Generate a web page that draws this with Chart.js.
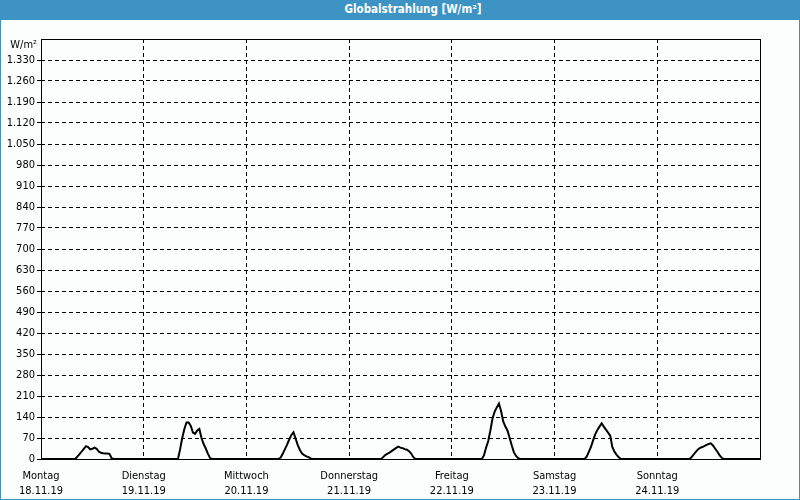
<!DOCTYPE html>
<html>
<head>
<meta charset="utf-8">
<script src="https://cdn.jsdelivr.net/npm/chart.js@4/dist/chart.umd.min.js"></script>
<style>
  html, body { margin: 0; padding: 0; background: #ffffff; }
  #frame { position: absolute; left: 0; top: 0; width: 800px; height: 500px; box-sizing: border-box;
           border: 1px solid #3d93c4; border-top: none; background: #fcfefe; }
  #title { height: 20px; line-height: 20px; background: #3d93c4; color: #ffffff; text-align: center;
           font: bold 11.5px "DejaVu Sans Condensed", "Liberation Sans", sans-serif; margin: 0 -1px;
           padding-left: 26px; box-sizing: border-box; overflow: hidden; }
  #title span { position: relative; top: 2px; }
  #c { display: block; }
</style>
</head>
<body>
<div id="frame">
  <div id="title"><span>Globalstrahlung [W/m²]</span></div>
  <canvas id="c" width="798" height="479"></canvas>
</div>
<script>
// Day names and dates (x tick labels)
const dayNames = ["Montag", "Dienstag", "Mittwoch", "Donnerstag", "Freitag", "Samstag", "Sonntag"];
const dayDates = ["18.11.19", "19.11.19", "20.11.19", "21.11.19", "22.11.19", "23.11.19", "24.11.19"];
// y axis ticks
const yMax = 1400;
const yStep = 70;
const yUnit = "W/m²";
// half-hourly readings 07:00 .. 17:30 (index 14..35 of each day), W/m²; other half hours are 0
const windowStart = 14;
const montag     = [0, 0, 0, 8, 16, 25, 34, 43, 40, 32, 34, 38, 34, 25, 21, 19, 18, 18, 17, 3, 0, 0];
const dienstag   = [0, 0, 0, 32, 70, 100, 122, 122, 110, 88, 84, 95, 100, 70, 50, 35, 18, 3, 0, 0, 0, 0];
const mittwoch   = [0, 0, 5, 18, 33, 48, 65, 80, 89, 68, 46, 30, 18, 13, 9, 6, 2, 0, 0, 0, 0, 0];
const donnerstag = [0, 0, 7, 14, 18, 22, 27, 32, 37, 41, 38, 36, 33, 31, 26, 18, 6, 0, 0, 0, 0, 0];
const freitag    = [0, 12, 38, 60, 95, 135, 158, 172, 185, 160, 125, 108, 95, 70, 45, 22, 10, 3, 0, 0, 0, 0];
const samstag    = [0, 8, 24, 40, 62, 82, 97, 108, 119, 108, 98, 88, 78, 40, 24, 14, 6, 0, 0, 0, 0, 0];
const sonntag    = [0, 0, 6, 15, 24, 32, 37, 40, 43, 47, 50, 52, 45, 35, 25, 14, 5, 0, 0, 0, 0, 0];
const days = [montag, dienstag, mittwoch, donnerstag, freitag, samstag, sonntag];

// build the series (x in hours since Monday 00:00)
const points = [];
days.forEach((arr, d) => {
  for (let i = 0; i < 48; i++) {
    const j = i - windowStart;
    const v = (j >= 0 && j < arr.length) ? arr[j] : 0;
    points.push({ x: d * 24 + i * 0.5, y: v });
  }
});
points.push({ x: 168, y: 0 });

const FONT = '"DejaVu Sans Condensed", "Liberation Sans", sans-serif';

function fmt(v) {
  if (v >= 1000) return Math.floor(v / 1000) + "." + String(v % 1000).padStart(3, "0");
  return String(v);
}

const framePlugin = {
  id: "framePlugin",
  afterDraw(chart) {
    const ctx = chart.ctx;
    const a = chart.chartArea;
    ctx.save();
    ctx.strokeStyle = "#000000";
    ctx.lineWidth = 1;
    ctx.setLineDash([]);
    ctx.strokeRect(Math.round(a.left) + 0.5, Math.round(a.top) + 0.5,
                   Math.round(a.right - a.left), Math.round(a.bottom - a.top));
    ctx.fillStyle = "#000000";
    ctx.font = "11px " + FONT;
    ctx.textAlign = "right";
    ctx.textBaseline = "middle";
    ctx.fillText(yUnit, a.left - 4, a.top + 6);
    ctx.restore();
  }
};

new Chart(document.getElementById("c"), {
  type: "line",
  data: {
    datasets: [{
      data: points,
      borderColor: "#000000",
      borderWidth: 2,
      pointRadius: 0,
      tension: 0,
      fill: false
    }]
  },
  options: {
    responsive: false,
    animation: false,
    devicePixelRatio: 1,
    parsing: true,
    layout: { padding: { left: 0, top: 19, right: 39, bottom: 0 } },
    plugins: { legend: { display: false }, tooltip: { enabled: false }, title: { display: false } },
    scales: {
      x: {
        type: "linear",
        min: 0,
        max: 168,
        afterFit(s) { s.height = 40; },
        afterBuildTicks(s) {
          const t = [];
          for (let d = 0; d <= 7; d++) t.push({ value: d * 24 });
          s.ticks = t;
        },
        ticks: {
          autoSkip: false,
          maxRotation: 0,
          padding: 10,
          color: "#000000",
          font: { family: FONT, size: 11, lineHeight: 1.36 },
          callback(v) {
            const d = Math.round(v / 24);
            return d < 7 ? [dayNames[d], dayDates[d]] : "";
          }
        },
        grid: {
          drawTicks: false,
          color: (c) => (c.tick && (c.tick.value === 0 || c.tick.value === 168)) ? "rgba(0,0,0,0)" : "#000000",
          lineWidth: 1
        },
        border: { display: false, dash: [4, 3] }
      },
      y: {
        min: 0,
        max: yMax,
        afterFit(s) { s.width = 40; },
        ticks: {
          stepSize: yStep,
          autoSkip: false,
          padding: 2,
          color: "#000000",
          font: { family: FONT, size: 11 },
          callback(v) { return v >= yMax ? "" : fmt(v); }
        },
        grid: {
          drawTicks: true,
          tickLength: 4,
          tickColor: (c) => (c.tick && c.tick.value >= yMax) ? "rgba(0,0,0,0)" : "#000000",
          color: (c) => (c.tick && c.tick.value >= yMax) ? "rgba(0,0,0,0)" : "#000000",
          lineWidth: 1
        },
        border: { display: false, dash: [4, 3] }
      }
    }
  },
  plugins: [framePlugin]
});
</script>
</body>
</html>
